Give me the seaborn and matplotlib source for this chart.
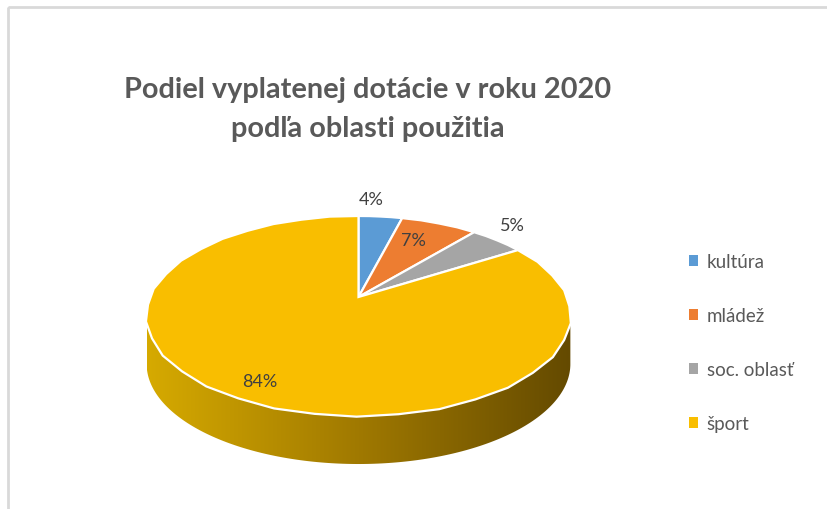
import numpy as np
import matplotlib
matplotlib.use("Agg")
import matplotlib.pyplot as plt
import matplotlib.transforms as mtransforms
from matplotlib.path import Path
from matplotlib.patches import Patch, PathPatch, Rectangle
import seaborn as sns

# ---------------- data ----------------
categories = ["kultúra", "mládež", "soc. oblasť", "šport"]
shares = [4, 7, 5, 84]
colors = ["#5B9BD5", "#ED7D31", "#A5A5A5", "#F9BE00"]
title_lines = ["Podiel vyplatenej dotácie v roku 2020", "podľa oblasti použitia"]

sns.set_theme(style="white")
plt.rcParams["font.family"] = ["Lato", "DejaVu Sans"]

W, H = 827, 510
fig = plt.figure(figsize=(W / 100, H / 100), dpi=100)
ax = fig.add_axes([0, 0, 1, 1])

# perspective geometry (pixel space)
CX, C0, A, B, K = 358.5, 298.0, 208.0, 96.4, 0.19
DEPTH = 48.0


class Persp(mtransforms.Transform):
    input_dims = output_dims = 2
    is_separable = False
    has_inverse = False

    def __init__(self, dy=0.0):
        super().__init__()
        self.dy = dy

    def transform_non_affine(self, values):
        v = np.asarray(values, dtype=float)
        u, t = v[:, 0], v[:, 1]
        w = 1 + K * t
        X = CX + A * u / w
        Y = C0 - B * t / w + self.dy
        return np.column_stack([X, Y])

    def transform_path_non_affine(self, path):
        polys = path.to_polygons(closed_only=True)
        verts = []
        codes = []
        for p in polys:
            if len(p) == 0:
                continue
            dense = [p[0]]
            for a, b in zip(p[:-1], p[1:]):
                for s in np.linspace(0, 1, 6)[1:]:
                    dense.append(a + (b - a) * s)
            dense = np.array(dense)
            verts.append(self.transform_non_affine(dense))
            c = np.full(len(dense), Path.LINETO)
            c[0] = Path.MOVETO
            c[-1] = Path.CLOSEPOLY
            codes.append(c)
        return Path(np.concatenate(verts), np.concatenate(codes))


# pie top (drawn by matplotlib's pie, then projected)
wedges, _ = ax.pie(shares, colors=colors, startangle=90, counterclock=False,
                   radius=1.0, center=(0, 0),
                   wedgeprops=dict(edgecolor="white", linewidth=1.6))
persp = Persp()
for wdg in wedges:
    wdg.set_transform(persp + ax.transData)
    wdg.set_zorder(5)

ax.set_aspect("auto")
ax.set_xlim(0, W)
ax.set_ylim(H, 0)
ax.axis("off")

# side of the pie (front rim belongs to the large slice)
tl = np.pi + np.arcsin(K)
tr = 2 * np.pi - np.arcsin(K)
ts = np.linspace(tl, tr, 200)
rim = np.column_stack([np.cos(ts), np.sin(ts)])
top_edge = Persp(0).transform_non_affine(rim)
bot_edge = Persp(DEPTH).transform_non_affine(rim)
side_verts = np.vstack([top_edge, bot_edge[::-1], top_edge[:1]])
side_path = Path(side_verts, closed=True)
side_patch = PathPatch(side_path, facecolor="none", edgecolor="none",
                       transform=ax.transData)
ax.add_patch(side_patch)

xs = np.linspace(0, 1, 400)
stops_x = [0.0, 0.5, 1.0]
stops_c = np.array([[214, 170, 0], [160, 121, 0], [100, 74, 0]]) / 255
grad = np.column_stack([np.interp(xs, stops_x, stops_c[:, i]) for i in range(3)])
grad_img = np.tile(grad[None, :, :], (2, 1, 1))
xmin, xmax = top_edge[:, 0].min(), top_edge[:, 0].max()
im = ax.imshow(grad_img, extent=[xmin, xmax, bot_edge[:, 1].max() + 2,
                                 top_edge[:, 1].min() - 2],
               aspect="auto", zorder=2, interpolation="bilinear")
im.set_clip_path(side_patch)
ax.set_xlim(0, W)
ax.set_ylim(H, 0)

# data labels
label_pos = [(371, 200), (413, 241), (512, 226), (260, 382)]
for val, (lx, ly) in zip(shares, label_pos):
    ax.text(lx, ly, f"{val}%", ha="center", va="center", fontsize=13,
            color="#404040", zorder=10)

# title
ax.text(368, 90, title_lines[0], ha="center", va="center", fontsize=20.8,
        fontweight="bold", color="#595959")
ax.text(368, 129, title_lines[1], ha="center", va="center", fontsize=20.8,
        fontweight="bold", color="#595959")

# chart border
ax.add_patch(Rectangle((8, 8), 900, 600, facecolor="none", edgecolor="#D9D9D9",
                       linewidth=2, zorder=0))

# legend
handles = [Patch(facecolor=c, edgecolor="none") for c in colors]
fig.legend(handles, categories, loc="upper left",
           bbox_to_anchor=(689 / W, 1 - 254 / H), frameon=False,
           fontsize=13.5, labelcolor="#595959", handlelength=0.5,
           handleheight=0.5, handletextpad=0.45, labelspacing=1.98,
           borderpad=0, borderaxespad=0)

fig.savefig("out.png", dpi=100)
